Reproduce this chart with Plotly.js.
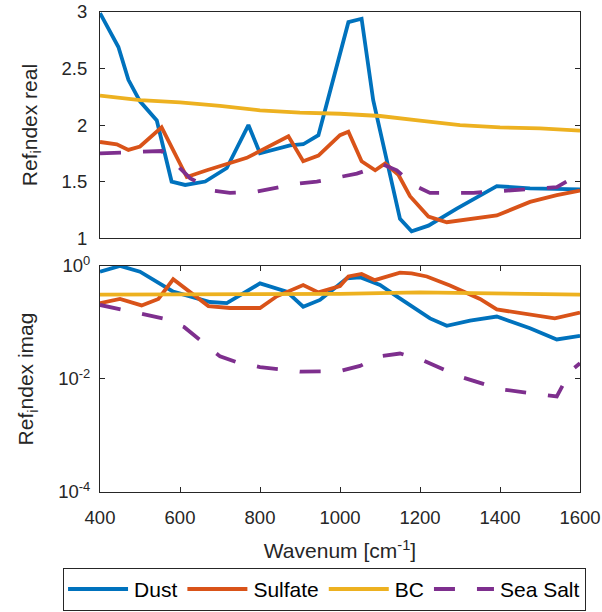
<!DOCTYPE html>
<html>
<head>
<meta charset="utf-8">
<script src="https://cdn.plot.ly/plotly-3.0.1.min.js"></script>
<style>
  html, body { margin: 0; padding: 0; background: #fff; }
  #chart { width: 602px; height: 612px; }
</style>
</head>
<body>
<div id="chart"></div>
<script>
// Complex refractive index of aerosol species vs. wavenumber (cm^-1)

// ---- real part ----
const dustWnRe   = [400, 446, 471, 500, 542, 579, 613, 663, 717, 771, 800, 842, 875, 908, 946, 1021, 1054, 1083, 1150, 1179, 1221, 1292, 1392, 1475, 1600];
const dustRe     = [2.99, 2.69, 2.40, 2.21, 2.04, 1.50, 1.47, 1.50, 1.62, 2.00, 1.75, 1.79, 1.82, 1.83, 1.91, 2.91, 2.94, 2.22, 1.17, 1.06, 1.11, 1.26, 1.46, 1.44, 1.43];

const sulfWnRe   = [400, 442, 471, 500, 554, 617, 667, 767, 871, 908, 946, 1000, 1021, 1054, 1088, 1113, 1146, 1175, 1221, 1267, 1392, 1475, 1542, 1600];
const sulfRe     = [1.85, 1.83, 1.78, 1.81, 1.98, 1.54, 1.60, 1.71, 1.90, 1.68, 1.73, 1.91, 1.94, 1.68, 1.60, 1.66, 1.56, 1.37, 1.19, 1.14, 1.20, 1.32, 1.38, 1.42];

const bcWnRe     = [400, 500, 600, 700, 800, 900, 1000, 1100, 1200, 1300, 1400, 1500, 1600];
const bcRe       = [2.26, 2.22, 2.20, 2.17, 2.13, 2.11, 2.10, 2.08, 2.04, 2.00, 1.98, 1.97, 1.95];

const saltWnRe   = [400, 554, 591, 625, 683, 725, 791, 833, 892, 942, 1000, 1042, 1108, 1142, 1183, 1225, 1333, 1417, 1542, 1600];
const saltRe     = [1.75, 1.77, 1.65, 1.53, 1.42, 1.40, 1.41, 1.44, 1.48, 1.50, 1.54, 1.57, 1.65, 1.60, 1.47, 1.40, 1.40, 1.42, 1.45, 1.57];

// ---- imaginary part ----
const dustWnIm   = [400, 450, 500, 542, 583, 625, 675, 717, 758, 800, 867, 908, 950, 1017, 1050, 1100, 1142, 1225, 1267, 1325, 1392, 1475, 1542, 1600];
const dustIm     = [0.79, 1.0, 0.79, 0.52, 0.35, 0.29, 0.23, 0.22, 0.33, 0.49, 0.35, 0.19, 0.25, 0.60, 0.63, 0.46, 0.29, 0.118, 0.087, 0.108, 0.127, 0.079, 0.050, 0.058];

const sulfWnIm   = [400, 450, 504, 546, 583, 625, 671, 725, 800, 842, 908, 946, 1000, 1021, 1054, 1087, 1150, 1179, 1217, 1275, 1350, 1392, 1475, 1537, 1600];
const sulfIm     = [0.22, 0.26, 0.20, 0.26, 0.58, 0.35, 0.195, 0.18, 0.18, 0.29, 0.46, 0.34, 0.44, 0.65, 0.72, 0.56, 0.76, 0.74, 0.65, 0.45, 0.26, 0.17, 0.135, 0.118, 0.15];

const bcWnIm     = [400, 600, 800, 1000, 1200, 1400, 1600];
const bcIm       = [0.31, 0.31, 0.32, 0.32, 0.34, 0.32, 0.31];

const saltWnIm   = [400, 460, 560, 610, 700, 740, 800, 900, 1000, 1050, 1100, 1150, 1200, 1300, 1400, 1542, 1575, 1600];
const saltIm     = [0.204, 0.166, 0.117, 0.083, 0.0251, 0.020, 0.0162, 0.0135, 0.0138, 0.0170, 0.0251, 0.0282, 0.0224, 0.011, 0.0066, 0.0049, 0.0135, 0.019];

const seriesNames = ['Dust', 'Sulfate', 'BC', 'Sea Salt'];
const xTicks = [400, 600, 800, 1000, 1200, 1400, 1600];

const colors = ['#0072BD', '#D95319', '#EDB120', '#7E2F8E'];
const dashes = ['solid', 'solid', 'solid', '21px,22px'];
const LW = 3.8;

const reX = [dustWnRe, sulfWnRe, bcWnRe, saltWnRe];
const reY = [dustRe, sulfRe, bcRe, saltRe];
const imX = [dustWnIm, sulfWnIm, bcWnIm, saltWnIm];
const imY = [dustIm, sulfIm, bcIm, saltIm];

const traces = [];
seriesNames.forEach((name, i) => {
  traces.push({
    x: reX[i], y: reY[i], name: name, type: 'scatter', mode: 'lines',
    xaxis: 'x', yaxis: 'y', legendgroup: name, showlegend: true,
    line: { color: colors[i], width: LW, dash: dashes[i] }
  });
});
seriesNames.forEach((name, i) => {
  traces.push({
    x: imX[i], y: imY[i], name: name, type: 'scatter', mode: 'lines',
    xaxis: 'x2', yaxis: 'y2', legendgroup: name, showlegend: false,
    line: { color: colors[i], width: LW, dash: dashes[i] }
  });
});

const axisColor = '#262626';
const family = 'Liberation Sans, Arial, sans-serif';
const tickFont = { family: family, size: 18.5, color: '#262626' };
const labelFont = { family: family, size: 21, color: '#262626' };

const layout = {
  width: 602, height: 612,
  margin: { l: 100, r: 22, t: 12, b: 120, autoexpand: false },
  paper_bgcolor: '#ffffff', plot_bgcolor: '#ffffff',
  font: tickFont,
  showlegend: true,
  legend: {
    orientation: 'h', x: -0.077, xanchor: 'left', y: -0.158, yanchor: 'top',
    bordercolor: '#262626', borderwidth: 1, bgcolor: '#ffffff',
    font: { family: family, size: 21, color: '#000' },
    itemwidth: 61
  },
  xaxis: {
    domain: [0, 1], range: [400, 1600], anchor: 'y',
    tickvals: xTicks, showticklabels: false, ticks: '',
    showgrid: false, zeroline: false,
    showline: true, linecolor: axisColor, linewidth: 1, mirror: true
  },
  yaxis: {
    domain: [0.529, 1], range: [1, 3], anchor: 'x',
    tickvals: [1, 1.5, 2, 2.5, 3], ticks: 'inside', ticklen: 5, tickcolor: axisColor,
    ticklabelstandoff: 8, tickfont: tickFont,
    showgrid: false, zeroline: false,
    showline: true, linecolor: axisColor, linewidth: 1, mirror: 'ticks',
    title: { text: 'Ref<sub>i</sub>ndex real', standoff: 18, font: labelFont }
  },
  xaxis2: {
    domain: [0, 1], range: [400, 1600], anchor: 'y2',
    tickvals: xTicks, ticks: 'inside', ticklen: 5, tickcolor: axisColor,
    ticklabelstandoff: 9, tickfont: tickFont,
    showgrid: false, zeroline: false,
    showline: true, linecolor: axisColor, linewidth: 1, mirror: 'ticks',
    title: { text: 'Wavenum [cm<sup>-1</sup>]', standoff: 16, font: labelFont }
  },
  yaxis2: {
    domain: [0, 0.471], type: 'log', range: [-4, 0], anchor: 'x2',
    tickvals: [1e-4, 1e-2, 1], ticktext: ['10<sup>-4</sup>', '10<sup>-2</sup>', '10<sup>0</sup>'],
    ticks: 'inside', ticklen: 5, tickcolor: axisColor,
    ticklabelstandoff: 5, tickfont: tickFont,
    showgrid: false, zeroline: false,
    showline: true, linecolor: axisColor, linewidth: 1, mirror: 'ticks',
    title: { text: 'Ref<sub>i</sub>ndex imag', standoff: 18, font: labelFont }
  }
};

Plotly.newPlot('chart', traces, layout, { displayModeBar: false, staticPlot: true })
  .then(gd => {
    // longer legend line samples
    gd.querySelectorAll('.legend .legendlines path').forEach(p => p.setAttribute('d', 'M5,0h60'));
  });
</script>
</body>
</html>
